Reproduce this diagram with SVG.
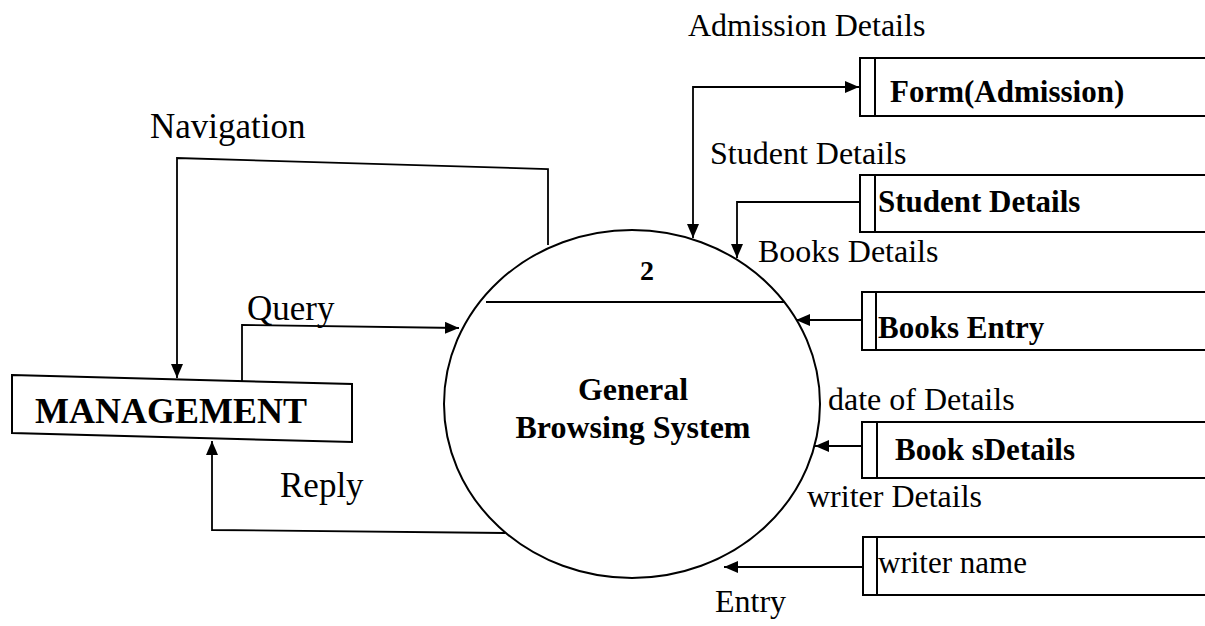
<svg xmlns="http://www.w3.org/2000/svg" width="1205" height="626" viewBox="0 0 1205 626">
<style>
text{font-family:"Liberation Serif","Times New Roman",serif;fill:#000}
.lbl{font-size:32px}
.lbl2{font-size:35px}
.b{font-weight:bold}
.st{font-size:31px;font-weight:bold}
.ln{fill:none;stroke:#000;stroke-width:2}
.conn{fill:none;stroke:#000;stroke-width:1.8;marker-end:url(#ah)}
</style>
<defs>
<marker id="ah" viewBox="0 0 14 12" refX="14" refY="6" markerWidth="14" markerHeight="12" markerUnits="userSpaceOnUse" orient="auto-start-reverse">
<path d="M0,0 L14,6 L0,12 Z" fill="#000"/>
</marker>
</defs>
<rect width="1205" height="626" fill="#fff"/>

<g id="connectors">
<polyline class="conn" points="548,245 548,169 177,158 177,378"/>
<polyline class="conn" points="242,381 242,325 459,328"/>
<polyline class="conn" points="505,533 212,530 212,441"/>
<polyline class="conn" style="marker-start:url(#ah)" points="693,238 693,87 859,87"/>
<polyline class="conn" points="860,202 737,202 737,258"/>
<line class="conn" x1="862" y1="320" x2="796" y2="320"/>
<line class="conn" x1="862" y1="446" x2="815" y2="446"/>
<line class="conn" x1="863" y1="567" x2="724" y2="567"/>
</g>

<g id="management">
<polygon class="ln" points="12,375 352,384 352,442 12,433"/>
<text x="35" y="423" font-size="36" class="b">MANAGEMENT</text>
</g>

<g id="process2">
<ellipse class="ln" cx="632" cy="404" rx="188" ry="174"/>
<line class="ln" x1="486" y1="302" x2="785" y2="302"/>
<text x="647" y="280" font-size="28" class="b" text-anchor="middle">2</text>
<text x="633" y="400" font-size="32" class="b" text-anchor="middle">General</text>
<text x="633" y="438" font-size="32" class="b" text-anchor="middle">Browsing System</text>
</g>

<g id="store-form">
<path class="ln" d="M1205,58 H860 V116 H1205 M875,58 V116"/>
<text x="890" y="102" class="st">Form(Admission)</text>
</g>

<g id="store-student">
<path class="ln" d="M1205,175 H860 V232 H1205 M875,175 V232"/>
<text x="878" y="212" class="st">Student Details</text>
</g>

<g id="store-books-entry">
<path class="ln" d="M1205,292 H862 V350 H1205 M876,292 V350"/>
<text x="878" y="338" class="st">Books Entry</text>
</g>

<g id="store-book-details">
<path class="ln" d="M1205,422 H862 V478 H1205 M877,422 V478"/>
<text x="895" y="460" class="st">Book sDetails</text>
</g>

<g id="store-writer">
<path class="ln" d="M1205,537 H863 V595 H1205 M877,537 V595"/>
<text x="878" y="573" font-size="31">writer name</text>
</g>

<g id="labels">
<text x="688" y="36" class="lbl">Admission Details</text>
<text x="150" y="138" class="lbl2">Navigation</text>
<text x="710" y="164" class="lbl">Student Details</text>
<text x="758" y="262" class="lbl">Books Details</text>
<text x="247" y="320" class="lbl2">Query</text>
<text x="828" y="410" class="lbl">date of Details</text>
<text x="280" y="497" class="lbl2">Reply</text>
<text x="807" y="507" class="lbl">writer Details</text>
<text x="715" y="612" class="lbl">Entry</text>
</g>
</svg>
